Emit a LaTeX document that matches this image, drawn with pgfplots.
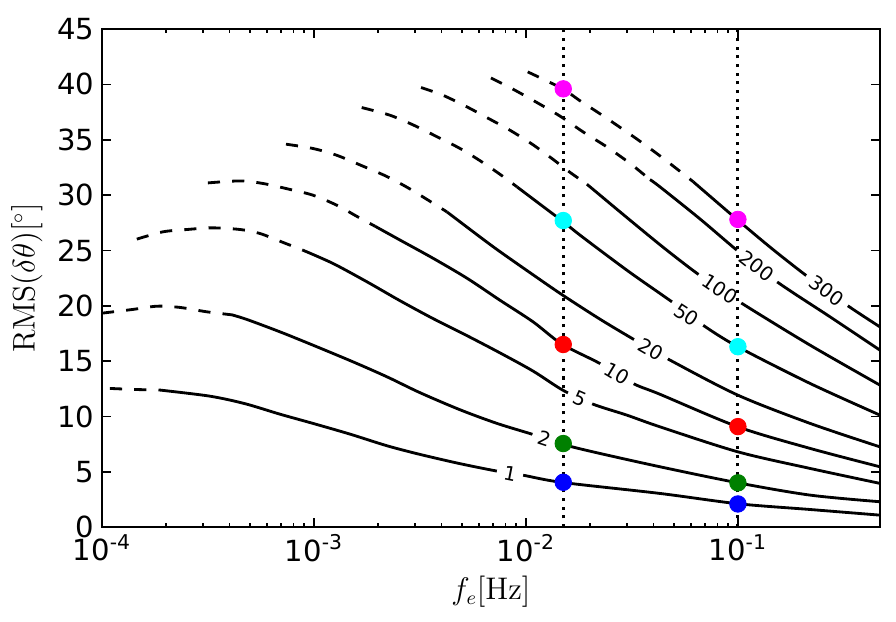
\documentclass[border=0pt]{standalone}
\usepackage[no-math]{fontspec}
\setmainfont{DejaVu Sans}
\usepackage{pgfplots}
\pgfplotsset{compat=1.18}
\definecolor{mgreen}{rgb}{0,0.5,0}
\definecolor{mblue}{rgb}{0,0,1}
\definecolor{mred}{rgb}{1,0,0}
\definecolor{mcyan}{rgb}{0,1,1}
\definecolor{mmagenta}{rgb}{1,0,1}
\pgfplotsset{
  sol/.style={black, line width=1.3pt, mark=none, smooth},
  dsh/.style={sol, dash pattern=on 5.6pt off 5.6pt},
  dot/.style={black, line width=1.4pt, mark=none, dash pattern=on 1.4pt off 2.6pt},
  mk/.style={only marks, mark=*, mark size=3.8pt, mark options={draw=#1, fill=#1}},
}
\tikzset{clab/.style={fill=white, inner xsep=3.2pt, inner ysep=0.6pt, font=\fontsize{9}{10.8}\selectfont}}
\begin{document}
\begin{tikzpicture}
\begin{axis}[
  scale only axis, width=358.5pt, height=229.5pt,
  xmode=log, xmin=1e-4, xmax=0.4677, ymin=0, ymax=45,
  xtick={1e-4,1e-3,1e-2,1e-1},
  xticklabels={10\textsuperscript{-4},10\textsuperscript{-3},10\textsuperscript{-2},10\textsuperscript{-1}},
  ytick={0,5,...,45},
  /pgf/number format/assume math mode=true,
  tick label style={font=\fontsize{13.4}{16}\selectfont},
  label style={font=\fontsize{13.4}{16}\selectfont},
  xlabel={$f_e[\mathrm{Hz}]$},
  ylabel={$\mathrm{RMS}(\delta\theta)[^\circ]$},
  axis line style={line width=1.1pt},
  major tick length=4pt, minor tick length=2pt,
  every tick/.style={black, line width=0.8pt},
]
% curve 1
\addplot[dsh] coordinates {(1.09e-4,12.53) (1.40e-4,12.44) (1.88e-4,12.38)};
\addplot[sol] coordinates {(1.88e-4,12.38) (3.23e-4,11.83) (4.73e-4,11.15) (6.92e-4,10.2) (9.89e-4,9.37) (1.48e-3,8.40) (2.21e-3,7.35) (3.16e-3,6.57) (4.89e-3,5.73) (7.30e-3,5.06) (9.68e-3,4.69) (1.48e-2,4.04) (4.29e-2,3.04) (0.1,2.11) (0.219,1.59) (0.4677,1.08)};
% curve 2
\addplot[dsh] coordinates {(1e-4,19.33) (1.40e-4,19.67) (1.82e-4,19.96) (2.33e-4,19.85) (3.13e-4,19.45) (4.10e-4,19.18)};
\addplot[sol] coordinates {(4.10e-4,19.18) (4.83e-4,18.76) (6.92e-4,17.64) (9.89e-4,16.44) (1.53e-3,14.93) (2.21e-3,13.58) (3.16e-3,12.15) (4.89e-3,10.6) (7.30e-3,9.37) (1.066e-2,8.40) (1.48e-2,7.50) (2.07e-2,6.80) (4.29e-2,5.45) (0.1,4.00) (0.219,2.89) (0.4677,2.29)};
% curve 5
\addplot[dsh] coordinates {(1.46e-4,26.02) (1.94e-4,26.68) (2.52e-4,26.89) (3.30e-4,27.04) (4.48e-4,26.89) (5.56e-4,26.53) (7.15e-4,25.72) (8.87e-4,25.02)};
\addplot[sol] coordinates {(8.87e-4,25.02) (1.23e-3,23.82) (1.78e-3,22.16) (2.55e-3,20.45) (3.64e-3,18.85) (5.27e-3,17.3) (7.53e-3,15.75) (1.08e-2,14.1) (1.50e-2,12.35) (2.07e-2,11.11) (2.99e-2,10.12) (4.29e-2,9.06) (0.1,6.80) (0.219,5.30) (0.4677,3.95)};
% curve 10
\addplot[dsh] coordinates {(3.16e-4,31.10) (4.48e-4,31.28) (5.74e-4,31.05) (7.71e-4,30.51) (9.89e-4,29.99) (1.28e-3,29.09) (1.61e-3,28.03) (1.94e-3,27.19)};
\addplot[sol] coordinates {(1.94e-3,27.19) (2.55e-3,25.93) (3.64e-3,24.30) (5.27e-3,22.49) (7.53e-3,20.51) (1.08e-2,18.55) (1.48e-2,16.53) (2.23e-2,14.79) (3.20e-2,12.98) (4.29e-2,12.0) (0.1,9.06) (0.219,7.11) (0.4677,5.45)};
% curve 20
\addplot[dsh] coordinates {(7.38e-4,34.60) (9.89e-4,34.21) (1.28e-3,33.60) (1.68e-3,32.66) (2.19e-3,31.71) (2.77e-3,30.67) (3.52e-3,29.45) (4.24e-3,28.48)};
\addplot[sol] coordinates {(4.24e-3,28.48) (6.07e-3,26.22) (7.53e-3,24.9) (1.08e-2,22.8) (1.48e-2,21.0) (2.23e-2,18.8) (3.20e-2,17.0) (4.77e-2,15.1) (0.1,11.92) (0.219,9.37) (0.4677,7.25)};
% curve 50
\addplot[dsh] coordinates {(1.68e-3,37.91) (2.28e-3,37.22) (2.96e-3,36.31) (3.80e-3,35.28) (4.89e-3,34.21) (6.07e-3,33.11) (7.53e-3,31.89) (9.08e-3,30.74)};
\addplot[sol] coordinates {(9.08e-3,30.74) (1.34e-2,28.3) (1.48e-2,27.7) (1.80e-2,26.38) (2.99e-2,23.22) (4.29e-2,21.11) (4.89e-2,20.35) (6.84e-2,18.25) (0.1,16.29) (0.219,12.98) (0.4677,10.12)};
% curve 100
\addplot[dsh] coordinates {(3.20e-3,39.72) (4.06e-3,39.02) (5.27e-3,37.97) (6.62e-3,36.95) (8.41e-3,35.86) (1.07e-2,34.60) (1.34e-2,33.24) (1.61e-2,32.07) (1.94e-2,30.98)};
\addplot[sol] coordinates {(1.94e-2,30.98) (3.10e-2,27.73) (4.62e-2,25.02) (6.76e-2,22.61) (0.1045,20.21) (0.219,16.44) (0.4677,12.83)};
% curve 200
\addplot[dsh] coordinates {(6.84e-3,40.58) (8.69e-3,39.57) (1.13e-2,38.35) (1.45e-2,37.13) (1.86e-2,35.71) (2.41e-2,34.35) (3.10e-2,32.86) (3.85e-2,31.4)};
\addplot[sol] coordinates {(3.85e-2,31.4) (4.29e-2,30.74) (6.62e-2,27.85) (0.0989,25.02) (0.153,22.16) (0.272,19.0) (0.4677,15.99)};
% curve 300
\addplot[dsh] coordinates {(1.02e-2,41.13) (1.48e-2,39.63) (1.80e-2,38.52) (2.23e-2,37.36) (2.77e-2,36.14) (3.45e-2,34.87) (4.29e-2,33.54) (5.32e-2,32.16) (6.15e-2,31.21)};
\addplot[sol] coordinates {(6.15e-2,31.21) (0.1,27.73) (0.146,25.1) (0.214,22.61) (0.327,20.05) (0.4677,18.09)};
% contour labels
\node[clab, rotate=-11] at (axis cs:8.41e-3,4.86) {1};
\node[clab, rotate=-18] at (axis cs:1.23e-2,8.0) {2};
\node[clab, rotate=-24] at (axis cs:1.80e-2,11.63) {5};
\node[clab, rotate=-31] at (axis cs:2.69e-2,13.86) {10};
\node[clab, rotate=-30] at (axis cs:3.89e-2,16.08) {20};
\node[clab, rotate=-33] at (axis cs:5.74e-2,19.18) {50};
\node[clab, rotate=-34] at (axis cs:8.22e-2,21.53) {100};
\node[clab, rotate=-38] at (axis cs:0.123,23.59) {200};
\node[clab, rotate=-36] at (axis cs:0.263,21.36) {300};
% dotted verticals
\addplot[dot] coordinates {(0.015,0) (0.015,45)};
\addplot[dot] coordinates {(0.1,0) (0.1,45)};
% markers
\addplot[mk=mblue] coordinates {(0.015,4.05) (0.1,2.09)};
\addplot[mk=mgreen] coordinates {(0.015,7.55) (0.1,4.0)};
\addplot[mk=mred] coordinates {(0.015,16.5) (0.1,9.08)};
\addplot[mk=mcyan] coordinates {(0.015,27.7) (0.1,16.3)};
\addplot[mk=mmagenta] coordinates {(0.015,39.6) (0.1,27.8)};
\end{axis}
\path[use as bounding box] ([shift={(-47pt,-43.3pt)}]current axis.south west) rectangle ([shift={(7.4pt,13.4pt)}]current axis.north east);
\end{tikzpicture}
\end{document}
